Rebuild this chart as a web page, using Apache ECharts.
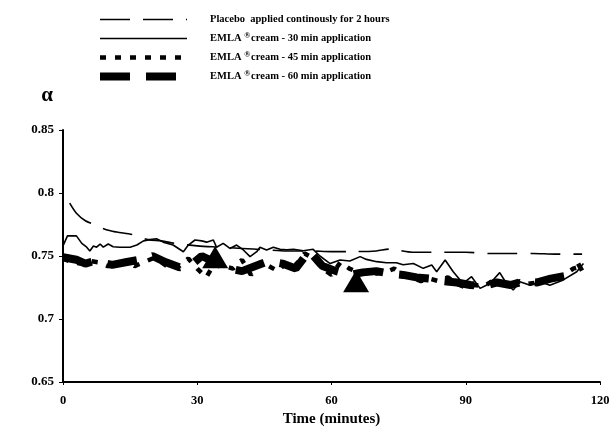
<!DOCTYPE html>
<html>
<head>
<meta charset="utf-8">
<script src="https://cdn.jsdelivr.net/npm/echarts@6/dist/echarts.min.js"></script>
<style>
  html, body { margin: 0; padding: 0; background: #fff; }
  #chart { width: 616px; height: 433px; }
</style>
</head>
<body>
<div id="chart"></div>
<script>
  // readings taken off the figure (time in minutes, alpha)
  var placeboTime = [1.5, 3, 5, 7, 9.5, 12, 15.5, 19, 22, 25, 30, 35, 40, 45, 50, 55, 60, 65, 70, 73, 75, 78, 80, 85, 90, 95, 100, 105, 110, 116];
  var placeboAlpha = [0.792, 0.784, 0.778, 0.775, 0.771, 0.769, 0.767, 0.763, 0.762, 0.760, 0.758, 0.757, 0.756, 0.755, 0.754, 0.754, 0.7535, 0.7535, 0.754, 0.7555, 0.7545, 0.753, 0.753, 0.753, 0.753, 0.752, 0.752, 0.752, 0.7515, 0.7515];

  var cream30Time = [0, 1, 3, 4.2, 5.3, 6, 6.8, 7.5, 8.3, 9, 10.1, 11.2, 12.7, 15, 16.5, 18, 19.4, 20.9, 22.4, 24.6, 26.9, 28, 29.5, 31, 32.1, 33.6, 34.3, 35.8, 37.3, 38.8, 40.3, 41.8, 43.3, 44, 45.5, 47, 48.5, 50, 51.5, 53.7, 55.9, 57.4, 59.7, 61.9, 64.1, 66.4, 67.8, 70.1, 72.3, 74.5, 76, 78.3, 80.5, 82.4, 83.5, 85.4, 87.2, 89.4, 91.3, 93.2, 94.6, 96.1, 97.6, 99.1, 100.6, 102.1, 104.4, 106.6, 108.8, 111.8, 114.8, 116.3];
  var cream30Alpha = [0.758, 0.766, 0.766, 0.760, 0.757, 0.754, 0.758, 0.757, 0.7595, 0.757, 0.7595, 0.7574, 0.757, 0.757, 0.7587, 0.762, 0.763, 0.7637, 0.761, 0.7587, 0.7534, 0.7587, 0.7627, 0.762, 0.761, 0.7627, 0.757, 0.760, 0.756, 0.7587, 0.7548, 0.7495, 0.7534, 0.757, 0.7548, 0.757, 0.7553, 0.755, 0.7553, 0.7542, 0.7553, 0.750, 0.744, 0.7468, 0.746, 0.7495, 0.7473, 0.7455, 0.7447, 0.7447, 0.743, 0.744, 0.7402, 0.7428, 0.7375, 0.7468, 0.7375, 0.7282, 0.7336, 0.7243, 0.7268, 0.731, 0.7368, 0.7282, 0.723, 0.7295, 0.7268, 0.7295, 0.7268, 0.731, 0.7375, 0.744];

  var cream45Time = [0, 2, 4, 6, 8, 10, 12, 14, 16, 18, 20, 22, 24, 26, 28, 30, 32, 34, 36, 38, 40, 42, 44, 46, 48, 50, 52, 54, 56, 58, 60, 62, 64, 66, 68, 70, 72, 74, 76, 78, 80, 82, 84, 86, 88, 90, 92, 94, 96, 98, 100, 102, 104, 106, 108, 110, 112, 114, 116];
  var cream45Alpha = [0.748, 0.745, 0.744, 0.746, 0.745, 0.742, 0.744, 0.746, 0.742, 0.745, 0.748, 0.745, 0.740, 0.742, 0.748, 0.740, 0.733, 0.745, 0.742, 0.740, 0.747, 0.735, 0.745, 0.742, 0.738, 0.745, 0.743, 0.752, 0.748, 0.740, 0.735, 0.745, 0.740, 0.737, 0.738, 0.736, 0.737, 0.740, 0.735, 0.733, 0.730, 0.732, 0.730, 0.733, 0.728, 0.725, 0.727, 0.726, 0.730, 0.728, 0.726, 0.730, 0.728, 0.729, 0.730, 0.732, 0.735, 0.740, 0.742];

  var cream60Time = [0, 3, 5, 7, 11, 14, 17, 20, 23, 26, 29, 31, 34, 37, 40, 43, 46, 49, 52, 55, 58, 61, 64, 67, 70, 73, 76, 79, 82, 85, 88, 91, 94, 97, 100, 103, 106, 109, 112, 115, 116];
  var cream60Alpha = [0.749, 0.747, 0.744, 0.746, 0.743, 0.745, 0.747, 0.750, 0.745, 0.741, 0.744, 0.750, 0.745, 0.740, 0.738, 0.742, 0.746, 0.744, 0.740, 0.754, 0.742, 0.738, 0.735, 0.737, 0.738, 0.736, 0.735, 0.733, 0.732, 0.730, 0.729, 0.727, 0.726, 0.729, 0.727, 0.730, 0.729, 0.732, 0.734, 0.740, 0.742];

  var markerTime = [34, 65.5];
  var markerAlpha = [0.749, 0.730];

  var xTicks = [0, 30, 60, 90, 120];
  var yTicks = [0.65, 0.7, 0.75, 0.8, 0.85];

  var seriesNames = [
    'Placebo  applied continously for 2 hours',
    'EMLA \u00AEcream - 30 min application',
    'EMLA \u00AEcream - 45 min application',
    'EMLA \u00AEcream - 60 min application'
  ];
  var legendWidths = [1.6, 1.6, 4.5, 8];

  function pairs(t, v) {
    return t.map(function (x, i) { return [x, v[i]]; });
  }

  var serif = '"Liberation Serif", "DejaVu Serif", serif';

  var chart = echarts.init(document.getElementById('chart'), null, { renderer: 'canvas' });

  var option = {
    animation: false,
    backgroundColor: '#fff',
    grid: { left: 63, right: 16, top: 130, bottom: 51 },
    legend: {
      orient: 'vertical',
      left: 96,
      top: 14,
      padding: 0,
      itemWidth: 87,
      itemHeight: 13,
      itemGap: 7,
      data: seriesNames.map(function (n, i) {
        return { name: n, lineStyle: { width: legendWidths[i] } };
      }),
      itemStyle: { opacity: 0 },
      formatter: function (name) {
        if (name.indexOf('EMLA') === 0) {
          var rest = name.replace('EMLA \u00AE', '');
          return '{t|EMLA }{s|\u00AE}{t|' + rest + '}';
        }
        return '{t|' + name + '}';
      },
      textStyle: {
        padding: [0, 0, 0, 18],
        rich: {
          t: { fontFamily: serif, fontWeight: 'bold', fontSize: 10.5, color: '#000' },
          s: { fontFamily: serif, fontWeight: 'bold', fontSize: 8, color: '#000', verticalAlign: 'top', padding: [0, 1, 5, 0] }
        }
      }
    },
    xAxis: {
      type: 'value',
      min: 0,
      max: 120,
      interval: 30,
      name: 'Time (minutes)',
      nameLocation: 'middle',
      nameGap: 28,
      nameTextStyle: { fontFamily: serif, fontWeight: 'bold', fontSize: 15, color: '#000' },
      axisLine: { lineStyle: { color: '#000', width: 2 } },
      axisTick: { length: 3, lineStyle: { color: '#000' } },
      splitLine: { show: false },
      axisLabel: {
        margin: 12,
        fontFamily: serif, fontWeight: 'bold', fontSize: 12.5, color: '#000',
        customValues: xTicks
      }
    },
    yAxis: {
      type: 'value',
      min: 0.65,
      max: 0.85,
      interval: 0.05,
      name: '\u03B1',
      nameLocation: 'end',
      nameGap: 24,
      nameTextStyle: { fontFamily: serif, fontWeight: 'bold', fontSize: 21, color: '#000', align: 'right', padding: [0, 10, 0, 0] },
      axisLine: { show: true, lineStyle: { color: '#000', width: 2 } },
      axisTick: { show: true, length: 4, lineStyle: { color: '#000' } },
      splitLine: { show: false },
      axisLabel: {
        margin: 9,
        fontFamily: serif, fontWeight: 'bold', fontSize: 13, color: '#000',
        formatter: function (v) {
          var r = Math.round(v * 100) / 100;
          return yTicks.indexOf(r) >= 0 ? String(r) : '';
        }
      }
    },
    series: [
      {
        name: seriesNames[0],
        type: 'line',
        data: pairs(placeboTime, placeboAlpha),
        showSymbol: false,
        symbol: 'none',
        smooth: 0.3,
        lineStyle: { color: '#000', width: 1.6, type: [30, 13] },
        itemStyle: { color: '#000' },
        z: 3
      },
      {
        name: seriesNames[1],
        type: 'line',
        data: pairs(cream30Time, cream30Alpha),
        showSymbol: false,
        symbol: 'none',
        lineStyle: { color: '#000', width: 1.6, type: 'solid' },
        itemStyle: { color: '#000' },
        z: 4
      },
      {
        name: seriesNames[2],
        type: 'line',
        data: pairs(cream45Time, cream45Alpha),
        showSymbol: false,
        symbol: 'none',
        lineStyle: { color: '#000', width: 4.5, type: [6, 9] },
        itemStyle: { color: '#000' },
        z: 2
      },
      {
        name: seriesNames[3],
        type: 'line',
        data: pairs(cream60Time, cream60Alpha),
        showSymbol: false,
        symbol: 'none',
        lineStyle: { color: '#000', width: 8, type: [30, 16] },
        itemStyle: { color: '#000' },
        z: 2
      },
      {
        name: 'markers',
        type: 'scatter',
        data: pairs(markerTime, markerAlpha),
        symbol: 'triangle',
        symbolSize: [26, 22],
        itemStyle: { color: '#000', opacity: 1 },
        z: 5
      }
    ]
  };

  chart.setOption(option);
</script>
</body>
</html>
